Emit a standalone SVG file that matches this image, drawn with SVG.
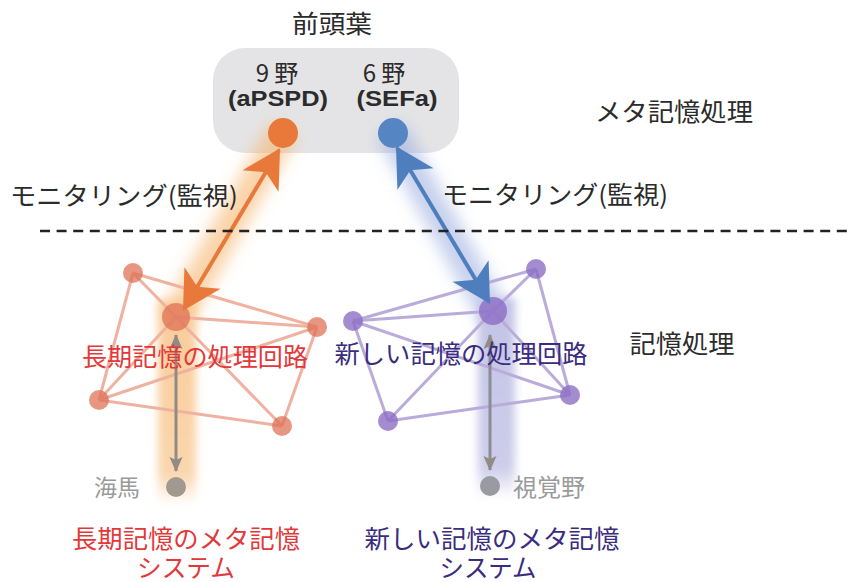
<svg xmlns="http://www.w3.org/2000/svg" width="852" height="582" viewBox="0 0 852 582">
<style>
.jp{font-family:"Noto Sans CJK JP","Noto Sans",sans-serif}
.dark{fill:#2b2b2b}
.red{fill:#E3383A}
.pur{fill:#3A2C7E}
.gry{fill:#9a9a9a}
.le{stroke:#EFB2A0;stroke-width:3;fill:none}
.re{stroke:#B9ACDA;stroke-width:3;fill:none}
.ln{fill:#DE6E52;fill-opacity:0.72}
.rn{fill:#8A6CC4;fill-opacity:0.78}
</style>
<defs>
<filter id="blur8" x="-50%" y="-50%" width="200%" height="200%"><feGaussianBlur stdDeviation="8"/></filter>
<filter id="blur4" x="-50%" y="-50%" width="200%" height="200%"><feGaussianBlur stdDeviation="4"/></filter>
<linearGradient id="og" x1="0" y1="0" x2="0" y2="1"><stop offset="0" stop-color="#F9CC98"/><stop offset="0.85" stop-color="#FAD6AE"/><stop offset="1" stop-color="#FAD6AE" stop-opacity="0"/></linearGradient>
<linearGradient id="pg" x1="0" y1="0" x2="0" y2="1"><stop offset="0" stop-color="#C3C3E6"/><stop offset="0.85" stop-color="#CDCDEA"/><stop offset="1" stop-color="#CDCDEA" stop-opacity="0"/></linearGradient>
<marker id="ao" viewBox="-40 -24 44 48" refX="0" refY="0" markerWidth="44" markerHeight="48" markerUnits="userSpaceOnUse" orient="auto-start-reverse"><path d="M2,0 L-36,-21 L-26,0 L-36,21 Z" fill="#E8793A"/></marker>
<marker id="ab" viewBox="-40 -24 44 48" refX="0" refY="0" markerWidth="44" markerHeight="48" markerUnits="userSpaceOnUse" orient="auto-start-reverse"><path d="M2,0 L-36,-21 L-26,0 L-36,21 Z" fill="#4F7EBE"/></marker>
<marker id="ag" viewBox="-16 -8 18 16" refX="0" refY="0" markerWidth="18" markerHeight="16" markerUnits="userSpaceOnUse" orient="auto-start-reverse"><path d="M1,0 L-14,-6.5 L-11,0 L-14,6.5 Z" fill="#928B85"/></marker>
</defs>
<rect width="852" height="582" fill="#ffffff"/>

<g id="frontal-box">
<rect x="213" y="48" width="246" height="105" rx="32" fill="#E4E4E6"/>
</g>

<g id="glows">
<line x1="284" y1="130" x2="176" y2="318" stroke="#F6AE62" stroke-width="30" stroke-opacity="0.55" filter="url(#blur8)"/>
<rect x="158" y="300" width="38" height="205" fill="url(#og)" filter="url(#blur4)"/>
<line x1="390" y1="130" x2="494" y2="314" stroke="#8FA3DC" stroke-width="30" stroke-opacity="0.5" filter="url(#blur8)"/>
<rect x="478" y="298" width="37" height="200" fill="url(#pg)" filter="url(#blur4)"/>
</g>

<g id="left-network-edges">
<line class="le" x1="133" y1="273" x2="176" y2="317"/>
<line class="le" x1="133" y1="273" x2="317" y2="327"/>
<line class="le" x1="133" y1="273" x2="99" y2="400"/>
<line class="le" x1="176" y1="317" x2="317" y2="327"/>
<line class="le" x1="176" y1="317" x2="99" y2="400"/>
<line class="le" x1="176" y1="317" x2="282" y2="426"/>
<line class="le" x1="99" y1="400" x2="317" y2="327"/>
<line class="le" x1="99" y1="400" x2="282" y2="426"/>
<line class="le" x1="282" y1="426" x2="317" y2="327"/>
</g>
<g id="right-network-edges">
<line class="re" x1="353" y1="321" x2="536" y2="269"/>
<line class="re" x1="353" y1="321" x2="493" y2="311"/>
<line class="re" x1="353" y1="321" x2="570" y2="395"/>
<line class="re" x1="353" y1="321" x2="388" y2="421"/>
<line class="re" x1="493" y1="311" x2="536" y2="269"/>
<line class="re" x1="493" y1="311" x2="388" y2="421"/>
<line class="re" x1="493" y1="311" x2="570" y2="395"/>
<line class="re" x1="536" y1="269" x2="570" y2="395"/>
<line class="re" x1="388" y1="421" x2="570" y2="395"/>
</g>

<g id="n-l1"><circle class="ln" cx="133" cy="273" r="10"/></g>
<g id="n-l2"><circle class="ln" cx="176" cy="317" r="14"/></g>
<g id="n-l3"><circle class="ln" cx="317" cy="327" r="10"/></g>
<g id="n-l4"><circle class="ln" cx="99" cy="400" r="10"/></g>
<g id="n-l5"><circle class="ln" cx="282" cy="426" r="10"/></g>
<g id="n-r1"><circle class="rn" cx="536" cy="269" r="10"/></g>
<g id="n-r2"><circle class="rn" cx="493" cy="311" r="14"/></g>
<g id="n-r3"><circle class="rn" cx="353" cy="321" r="10"/></g>
<g id="n-r4"><circle class="rn" cx="570" cy="395" r="10"/></g>
<g id="n-r5"><circle class="rn" cx="388" cy="421" r="10"/></g>

<g id="area9">
<circle cx="283" cy="133" r="15" fill="#E8793A"/>
<text class="jp dark" x="277" y="82" font-size="24" text-anchor="middle">9 野</text>
<text x="278" y="106" font-family="'Liberation Sans',Arial,sans-serif" font-weight="bold" font-size="22" fill="#2b2b2b" text-anchor="middle" textLength="100" lengthAdjust="spacingAndGlyphs">(aPSPD)</text>
</g>
<g id="area6">
<circle cx="393" cy="133" r="15" fill="#5685C4"/>
<text class="jp dark" x="384" y="82" font-size="24" text-anchor="middle">6 野</text>
<text x="397" y="106" font-family="'Liberation Sans',Arial,sans-serif" font-weight="bold" font-size="22" fill="#2b2b2b" text-anchor="middle" textLength="81" lengthAdjust="spacingAndGlyphs">(SEFa)</text>
</g>

<g id="hippocampus">
<circle cx="176" cy="487" r="10" fill="#A19890"/>
<text class="jp gry" x="140" y="496" font-size="23" text-anchor="end">海馬</text>
</g>
<g id="visual-cortex">
<circle cx="490" cy="486" r="10" fill="#9A9AA2"/>
<text class="jp gry" x="513" y="496" font-size="24">視覚野</text>
</g>

<g id="connectors">
<line x1="279" y1="150" x2="184" y2="309" stroke="#E8793A" stroke-width="4" marker-start="url(#ao)" marker-end="url(#ao)"/>
<line x1="397" y1="148" x2="489" y2="302" stroke="#4F7EBE" stroke-width="4" marker-start="url(#ab)" marker-end="url(#ab)"/>
<line x1="176" y1="335" x2="176" y2="471" stroke="#928B85" stroke-width="3" marker-start="url(#ag)" marker-end="url(#ag)"/>
<line x1="490" y1="335" x2="490" y2="470" stroke="#8C8C96" stroke-width="3" marker-start="url(#ag)" marker-end="url(#ag)"/>
</g>

<g id="divider">
<line x1="40" y1="231" x2="852" y2="231" stroke="#222" stroke-width="2.5" stroke-dasharray="10 6.6"/>
</g>

<g id="labels">
<text class="jp dark" x="332" y="33" font-size="25" text-anchor="middle" textLength="80" lengthAdjust="spacingAndGlyphs">前頭葉</text>
<text class="jp dark" x="674" y="121" font-size="25" text-anchor="middle" textLength="158" lengthAdjust="spacingAndGlyphs">メタ記憶処理</text>
<text class="jp dark" x="682" y="353" font-size="25" text-anchor="middle" textLength="105" lengthAdjust="spacingAndGlyphs">記憶処理</text>
<text class="jp dark" x="124" y="205" font-size="25" text-anchor="middle" textLength="228" lengthAdjust="spacingAndGlyphs">モニタリング(監視)</text>
<text class="jp dark" x="555" y="204" font-size="25" text-anchor="middle" textLength="226" lengthAdjust="spacingAndGlyphs">モニタリング(監視)</text>
<text class="jp red" x="195" y="366" font-size="25" text-anchor="middle" textLength="226" lengthAdjust="spacingAndGlyphs">長期記憶の処理回路</text>
<text class="jp pur" x="461" y="363" font-size="25" text-anchor="middle" textLength="253" lengthAdjust="spacingAndGlyphs">新しい記憶の処理回路</text>
<text class="jp red" x="186" y="548" font-size="25" text-anchor="middle" textLength="228" lengthAdjust="spacingAndGlyphs">長期記憶のメタ記憶</text>
<text class="jp red" x="186" y="577" font-size="25" text-anchor="middle" textLength="98" lengthAdjust="spacingAndGlyphs">システム</text>
<text class="jp pur" x="492" y="548" font-size="25" text-anchor="middle" textLength="255" lengthAdjust="spacingAndGlyphs">新しい記憶のメタ記憶</text>
<text class="jp pur" x="488" y="577" font-size="25" text-anchor="middle" textLength="97" lengthAdjust="spacingAndGlyphs">システム</text>
</g>
</svg>
